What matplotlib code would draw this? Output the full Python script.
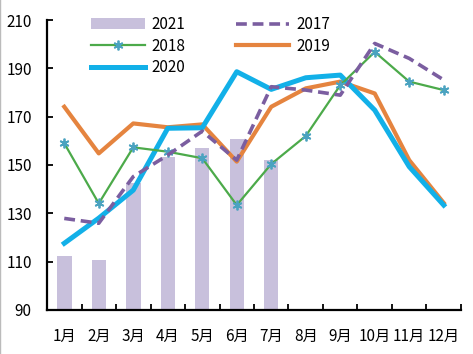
import matplotlib
matplotlib.use('Agg')
import matplotlib.pyplot as plt
from matplotlib.lines import Line2D
import numpy as np

plt.rcParams['font.family'] = ['Noto Sans CJK SC', 'DejaVu Sans']

months = ['1月', '2月', '3月', '4月', '5月', '6月', '7月', '8月', '9月', '10月', '11月', '12月']
y2021 = [112.3, 110.7, 142.4, 153.2, 156.9, 160.7, 152.1]
y2017 = [127.9, 125.9, 145.2, 154.1, 164.0, 152.0, 182.4, 181.0, 178.9, 200.3, 194.1, 185.2]
y2018 = [159.0, 134.1, 157.3, 155.5, 152.8, 133.4, 150.4, 162.0, 183.0, 196.8, 184.5, 181.0]
y2019 = [174.1, 154.8, 167.2, 165.6, 166.8, 151.4, 174.1, 181.7, 184.5, 179.6, 152.0, 134.3]
y2020 = [117.6, 128.0, 139.6, 165.2, 165.4, 188.6, 181.3, 186.1, 187.2, 172.7, 149.3, 133.4]

x = np.arange(len(months))

fig = plt.figure(figsize=(4.73, 3.54), dpi=100)
ax = fig.add_axes([0.0994, 0.1243, 0.8752, 0.8192])

bars = ax.bar(x[:len(y2021)], y2021, width=0.42, color='#C8C0DC', zorder=1, label='2021')
l19, = ax.plot(x, y2019, color='#E5843F', linewidth=3.0, zorder=2, label='2019')
l20, = ax.plot(x, y2020, color='#12B0E8', linewidth=3.6, zorder=3, label='2020')
l18, = ax.plot(x, y2018, color='#4CAA4A', linewidth=1.6, zorder=4, label='2018',
               marker=(6, 2, 0), markersize=7, markeredgecolor='#4BA3C0',
               markerfacecolor='#4BA3C0', markeredgewidth=1.3)
l17, = ax.plot(x, y2017, color='#7B5EA0', linewidth=2.6, linestyle=(0, (3, 1.6)),
               zorder=5, label='2017')

ax.set_xlim(-0.5, 11.5)
ax.set_ylim(90, 210)
ax.set_yticks(np.arange(90, 211, 20))
ax.set_xticks(x)
ax.set_xticklabels(months)
ax.set_xticks(np.arange(-0.5, 12, 1), minor=True)
ax.tick_params(axis='x', which='major', length=0, pad=13, labelsize=11)
ax.tick_params(axis='x', which='minor', direction='in', length=4, width=1.3)
ax.tick_params(axis='y', direction='in', length=4, width=1.3, pad=11, labelsize=11)

for s in ['top', 'right']:
    ax.spines[s].set_visible(False)
for s in ['left', 'bottom']:
    ax.spines[s].set_linewidth(1.6)

leg = fig.legend([bars, l18, l20, l17, l19], ['2021', '2018', '2020', '2017', '2019'],
                 ncol=2, loc='upper left', bbox_to_anchor=(0.17, 0.985),
                 frameon=False, fontsize=11, handlelength=3.5, handletextpad=0.45,
                 columnspacing=3.3, labelspacing=0.3, borderpad=0.2)

fig.add_artist(Line2D([0.001, 0.001], [0, 1], transform=fig.transFigure,
                      color='#BBBBBB', linewidth=1))

fig.savefig('out.png', dpi=100)
